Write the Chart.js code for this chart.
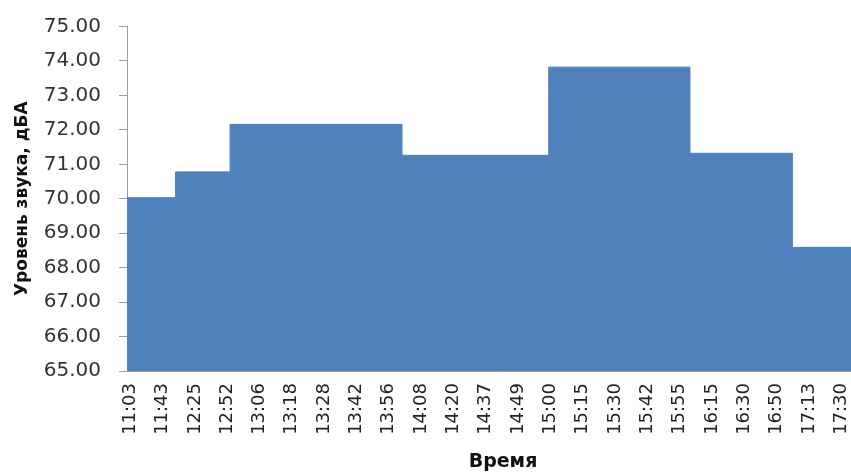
<!DOCTYPE html>
<html>
<head>
<meta charset="utf-8">
<script src="https://cdn.jsdelivr.net/npm/chart.js@4.4.0/dist/chart.umd.min.js"></script>
<style>
  html, body { margin: 0; padding: 0; background: #fff; overflow: hidden; }
  body { width: 851px; height: 473px; }
  /* the original picture is cut off on the right, so the chart is a bit wider than the page */
  #wrap { width: 879px; height: 473px; }
</style>
</head>
<body>
<div id="wrap"><canvas id="noiseChart"></canvas></div>
<script>
// time labels on the x axis
const timeLabels = ['11:03', '11:43', '12:25', '12:52', '13:06', '13:18', '13:28', '13:42',
    '13:56', '14:08', '14:20', '14:37', '14:49', '15:00', '15:15', '15:30', '15:42',
    '15:55', '16:15', '16:30', '16:50', '17:13', '17:30'];

// where each level starts (in label index units) and its value, dBA
const stepStarts = [-0.1, 1.40, 3.09, 8.41, 12.95, 17.32, 20.49];
const stepLevels = [70.03, 70.78, 72.16, 71.26, 73.82, 71.32, 68.59];
const axisEnd = 23.17;

const yMin = 65;
const yMax = 75;

document.addEventListener('DOMContentLoaded', function () {
    const points = stepStarts.map((x, i) => ({ x: x, y: stepLevels[i] }));
    points.push({ x: axisEnd, y: stepLevels[stepLevels.length - 1] });

    const ctx = document.getElementById('noiseChart').getContext('2d');
    new Chart(ctx, {
        type: 'line',
        data: {
            datasets: [{
                data: points,
                stepped: true,
                fill: 'start',
                backgroundColor: '#4F81BD',
                borderColor: '#4F81BD',
                borderWidth: 1,
                pointRadius: 0
            }]
        },
        options: {
            responsive: true,
            maintainAspectRatio: false,
            animation: false,
            layout: { padding: { left: 6, right: 0, top: 26.5, bottom: 0 } },
            plugins: {
                legend: { display: false },
                tooltip: { enabled: false }
            },
            scales: {
                x: {
                    type: 'linear',
                    min: stepStarts[0],
                    max: axisEnd,
                    offset: false,
                    afterBuildTicks: axis => {
                        axis.ticks = timeLabels.map((_, i) => ({ value: i }));
                    },
                    afterFit: axis => {
                        axis.height = 102;
                        axis.paddingLeft = 0;
                        axis.paddingRight = 0;
                    },
                    grid: { display: false, drawTicks: false },
                    border: { display: true, color: '#9a9a9a', width: 1 },
                    ticks: {
                        autoSkip: false,
                        minRotation: 90,
                        maxRotation: 90,
                        padding: 12,
                        color: '#222',
                        font: { family: 'DejaVu Sans', size: 18 },
                        callback: value => timeLabels[value]
                    },
                    title: {
                        display: true,
                        text: 'Время',
                        color: '#111',
                        font: { family: 'DejaVu Sans', size: 19, weight: 'bold' },
                        padding: { top: 14, bottom: 0 }
                    }
                },
                y: {
                    min: yMin,
                    max: yMax,
                    afterFit: axis => {
                        axis.width = 121;
                        axis.paddingTop = 0;
                        axis.paddingBottom = 0;
                    },
                    grid: {
                        drawOnChartArea: false,
                        drawTicks: true,
                        tickLength: 8,
                        color: '#9a9a9a'
                    },
                    border: { display: true, color: '#9a9a9a', width: 1 },
                    ticks: {
                        stepSize: 1,
                        padding: 18,
                        color: '#333',
                        font: { family: 'DejaVu Sans', size: 20 },
                        callback: value => value.toFixed(2)
                    },
                    title: {
                        display: true,
                        text: 'Уровень звука, дБА',
                        color: '#111',
                        font: { family: 'DejaVu Sans', size: 17, weight: 'bold' },
                        padding: { top: 6, bottom: 10 }
                    }
                }
            }
        }
    });
});
</script>
</body>
</html>
